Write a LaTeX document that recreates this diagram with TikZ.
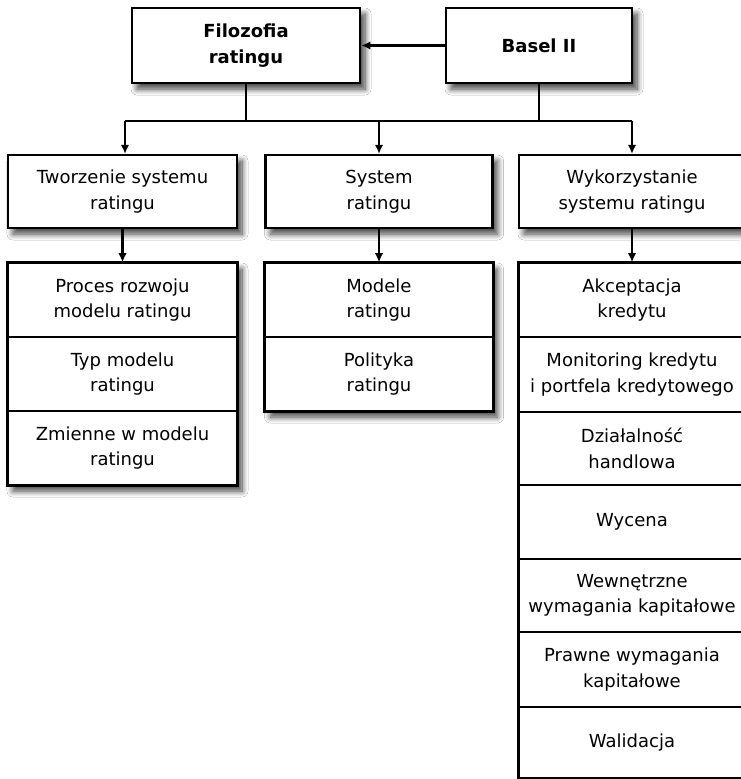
\documentclass[tikz,border=0pt]{standalone}
\usepackage{fontspec}
\setmainfont{DejaVu Sans}
\usetikzlibrary{arrows.meta,shadows.blur}
\begin{document}
\begin{tikzpicture}[x=1pt,y=-1pt,
  txt/.style={font=\fontsize{18}{25.5}\selectfont},
  box/.style={draw, line width=2.3pt, fill=white, align=center, inner sep=0pt, txt},
  topbox/.style={box, line width=2.8pt, font=\bfseries\fontsize{18}{26}\selectfont},
  shad/.style={blur shadow={shadow xshift=5pt, shadow yshift=-6pt, shadow blur radius=6pt, shadow blur steps=10, shadow opacity=75}},
  row/.style={draw, line width=1.6pt, fill=white, align=center, inner sep=0pt, txt},
  conn/.style={line width=2.2pt},
  arr/.style={line width=2.2pt, -{Latex[length=9pt,width=8.5pt]}}]
\useasboundingbox (0,0) rectangle (740,779);
\fill[white] (0,0) rectangle (740,779);

% top level
\node[topbox, shad, minimum width=228pt, minimum height=75pt] (fil) at (246,45.5) {Filozofia\\ratingu};
\node[topbox, shad, minimum width=186pt, minimum height=75pt] (bas) at (539,45.5) {Basel II};

% second level
\node[box, shad, minimum width=229pt, minimum height=73pt] (t1) at (122.5,191.5) {Tworzenie systemu\\ratingu};
\node[box, shad, minimum width=227pt, minimum height=73pt] (s1) at (379,191.5) {System\\ratingu};
\node[box, shad, minimum width=226pt, minimum height=73pt] (w1) at (632,191.5) {Wykorzystanie\\systemu ratingu};

% stack backgrounds (shadows)
\node[box, shad, minimum width=229pt, minimum height=222pt] (lstack) at (122.5,374) {};
\node[box, shad, minimum width=227pt, minimum height=148pt] (mstack) at (379,337) {};
\node[box, shad, minimum width=226pt, minimum height=515pt] (rstack) at (632,520.5) {};

% left stack
\node[row, minimum width=229pt, minimum height=74pt] (l1) at (122.5,300) {Proces rozwoju\\modelu ratingu};
\node[row, minimum width=229pt, minimum height=74pt] (l2) at (122.5,374) {Typ modelu\\ratingu};
\node[row, minimum width=229pt, minimum height=74pt] (l3) at (122.5,448) {Zmienne w modelu\\ratingu};
\draw[line width=2.3pt] (lstack.north west) rectangle (lstack.south east);

% middle stack
\node[row, minimum width=227pt, minimum height=74pt] (m1) at (379,300) {Modele\\ratingu};
\node[row, minimum width=227pt, minimum height=74pt] (m2) at (379,374) {Polityka\\ratingu};
\draw[line width=2.3pt] (mstack.north west) rectangle (mstack.south east);

% right stack
\node[row, minimum width=226pt, minimum height=74pt] (r1) at (632,300) {Akceptacja\\kredytu};
\node[row, minimum width=226pt, minimum height=75pt] (r2) at (632,374.5) {Monitoring kredytu\\i portfela kredytowego};
\node[row, minimum width=226pt, minimum height=73pt] (r3) at (632,448.5) {Działalność\\handlowa};
\node[row, minimum width=226pt, minimum height=74pt] (r4) at (632,522) {Wycena};
\node[row, minimum width=226pt, minimum height=73pt] (r5) at (632,595.5) {Wewnętrzne\\wymagania kapitałowe};
\node[row, minimum width=226pt, minimum height=75pt] (r6) at (632,669.5) {Prawne wymagania\\kapitałowe};
\node[row, minimum width=226pt, minimum height=71pt] (r7) at (632,742.5) {Walidacja};
\draw[line width=2.3pt] (rstack.north west) rectangle (rstack.south east);

% connectors
\coordinate (busL) at (125,121);
\coordinate (busR) at (632,121);
\draw[arr] (bas.west) -- (fil.east);
\draw[conn] (fil.south) -- (fil.south |- busL);
\draw[conn] (bas.south) -- (bas.south |- busL);
\draw[conn] (busL) -- (busR);
\draw[arr] (busL) -- (busL |- t1.north);
\draw[arr] (s1.north |- busL) -- (s1.north);
\draw[arr] (busR) -- (busR |- w1.north);
\draw[arr] (t1.south) -- (l1.north);
\draw[arr] (s1.south) -- (m1.north);
\draw[arr] (w1.south) -- (r1.north);
\end{tikzpicture}
\end{document}
